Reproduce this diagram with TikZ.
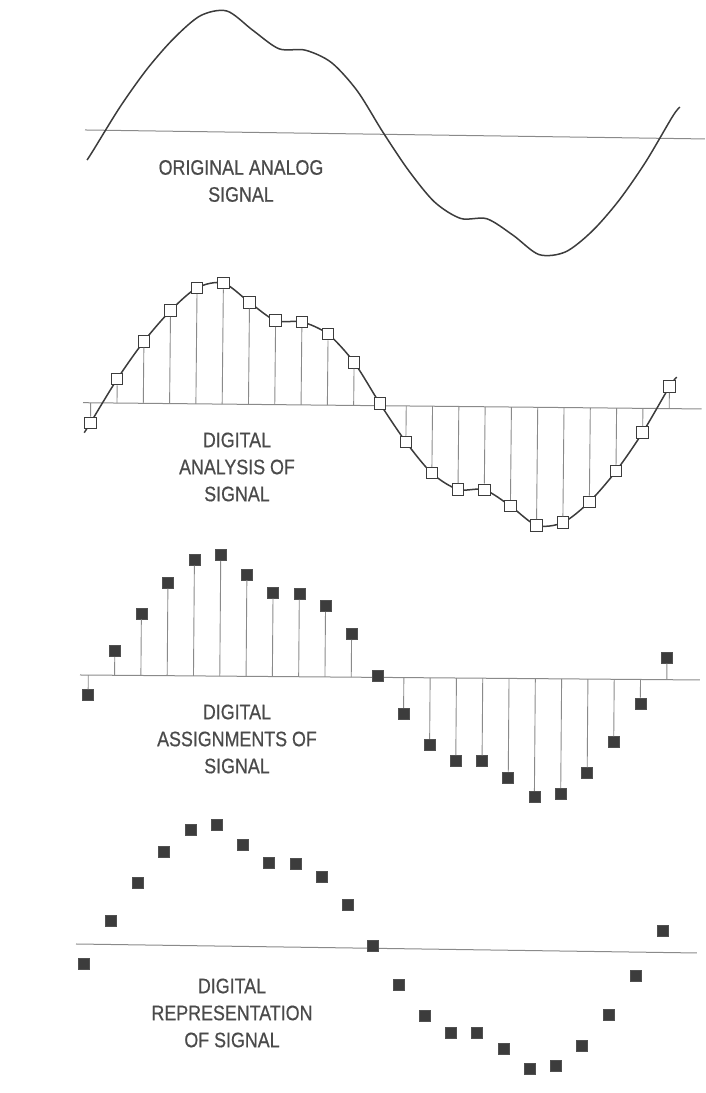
\documentclass[tikz,border=0pt]{standalone}
\usepackage{fontspec}
\setmainfont{Liberation Sans}[FakeStretch=0.85,FakeBold=0.6]
\definecolor{ink}{HTML}{3C3C3C}
\definecolor{rulegray}{HTML}{8A8A8A}
\definecolor{textgray}{HTML}{4A4A4A}
\newcommand{\sigvals}{-20,24,62,93,116,121,102,84,83,71,43,2,-36,-67,-83,-83,-99,-118,-115,-94,-63,-24,22}
\newcommand{\drawwave}{\draw[wave] plot coordinates {(1.5,-30) (7.7,-20) (34,24) (60.3,62) (86.6,93)
  (112.9,116) (139.2,121) (165.5,102) (191.8,84) (218.1,83) (244.4,71) (270.7,43) (297,2)
  (323.3,-36) (349.6,-67) (375.9,-83) (402.2,-83) (428.5,-99) (454.8,-118) (481.1,-115)
  (507.4,-94) (533.7,-63) (560,-24) (586.3,22) (593.5,31.5)};}
\tikzset{
  axisline/.style = {draw=rulegray, line width=1pt},
  stem/.style     = {draw=rulegray, line width=0.9pt},
  wave/.style     = {draw=ink, line width=1.5pt, smooth, tension=0.5},
  opensq/.style   = {draw=ink, fill=white, line width=1pt, minimum size=11.5pt, inner sep=0pt},
  fullsq/.style   = {draw=ink!90, fill=ink, line width=0.6pt, minimum size=11pt, inner sep=0pt},
  caption/.style  = {align=center, text=textgray, font=\fontsize{21}{27}\selectfont},
}
\begin{document}
\begin{tikzpicture}[x=1pt,y=1pt]
  \useasboundingbox (0,0) rectangle (706,1093);
  % original analog signal
  \begin{scope}[shift={(86,963)},rotate=-0.83]
    \coordinate (a0) at (-1,0);
    \coordinate (a1) at (619,0);
    \draw[axisline] (a0) -- (a1);
    \drawwave
  \end{scope}
  \node[caption] (cap1) at (241,912) {ORIGINAL ANALOG\\SIGNAL};
  % digital analysis
  \begin{scope}[shift={(83,690.3)},rotate=-0.58]
    \coordinate (b0) at (0,0);
    \coordinate (b24) at (618.7,0);
    \draw[axisline] (b0) -- (b24);
    \drawwave
    \foreach \v [count=\i] in \sigvals {
      \pgfmathsetmacro{\xx}{7.7+26.3*(\i-1)}
      \coordinate (b\i) at (\xx,0);
      \node[opensq] (s\i) at (\xx,\v) {};
      \ifnum\i=12\relax\else\draw[stem] (b\i) -- (s\i);\fi
    }
  \end{scope}
  \node[caption] (cap2) at (237,626) {DIGITAL\\ANALYSIS OF\\SIGNAL};
  % digital assignments
  \begin{scope}[shift={(80.6,418)},rotate=-0.46]
    \coordinate (c0) at (-0.6,0);
    \coordinate (c24) at (619.4,0);
    \draw[axisline] (c0) -- (c24);
    \foreach \v [count=\i] in \sigvals {
      \pgfmathsetmacro{\xx}{7.7+26.3*(\i-1)}
      \coordinate (c\i) at (\xx,0);
      \node[fullsq] (r\i) at (\xx,\v) {};
      \ifnum\i=12\relax\else\draw[stem] (c\i) -- (r\i);\fi
    }
  \end{scope}
  \node[caption] (cap3) at (237,354) {DIGITAL\\ASSIGNMENTS OF\\SIGNAL};
  % digital representation
  \begin{scope}[shift={(76.3,149)},rotate=-0.83]
    \coordinate (d0) at (-0.3,0);
    \coordinate (d24) at (620.7,0);
    \draw[axisline] (d0) -- (d24);
    \foreach \v [count=\i] in \sigvals
      \node[fullsq] (q\i) at ({7.7+26.3*(\i-1)},\v) {};
  \end{scope}
  \node[caption] (cap4) at (232,80) {DIGITAL\\REPRESENTATION\\OF SIGNAL};
\end{tikzpicture}
\end{document}
